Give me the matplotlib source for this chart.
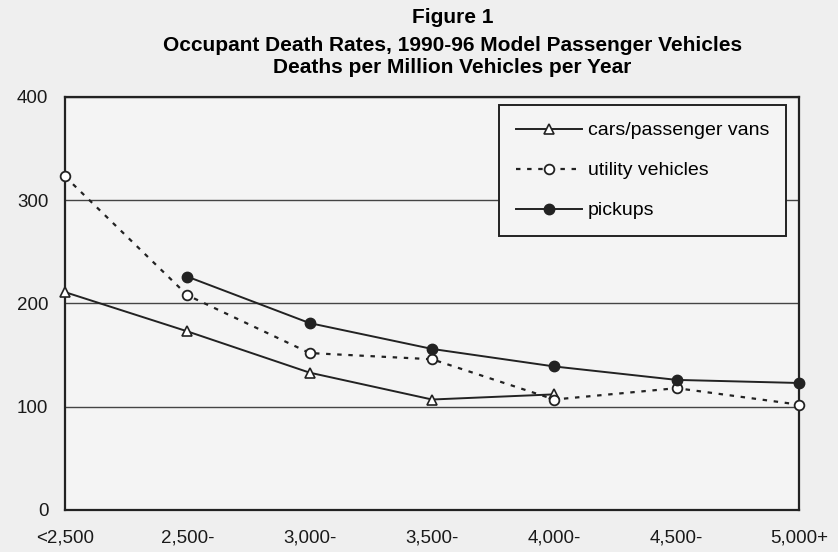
import matplotlib
matplotlib.use("Agg")
import matplotlib.pyplot as plt
import numpy as np

plt.rcParams['font.family'] = ['Liberation Sans', 'DejaVu Sans']

weights = ["<2,500", "2,500-", "3,000-", "3,500-", "4,000-", "4,500-", "5,000+"]
cars = [211, 173, 133, 107, 112, None, None]
utility = [323, 208, 152, 146, 107, 118, 102]
pickups = [None, 226, 181, 156, 139, 126, 123]

def arr(v):
    return np.array([np.nan if a is None else a for a in v], dtype=float)

bg = '#efefef'
fig = plt.figure(figsize=(8.38, 5.52), dpi=100, facecolor=bg)
ax = fig.add_axes([0.0776, 0.0761, 0.8759, 0.7482], facecolor='#f4f4f4')

x = np.arange(len(weights))
ax.plot(x, arr(cars), color='#222222', lw=1.4, marker='^', ms=6.5,
        mfc='white', mec='#222222', mew=1.2, label='cars/passenger vans',
        zorder=3, clip_on=False)
ax.plot(x, arr(utility), color='#222222', lw=1.6, ls=(0, (2, 3)), marker='o', ms=7,
        mfc='white', mec='#222222', mew=1.3, label='utility vehicles',
        zorder=3, clip_on=False)
ax.plot(x, arr(pickups), color='#222222', lw=1.4, marker='o', ms=7.5,
        mfc='#222222', mec='#222222', label='pickups', zorder=3, clip_on=False)

ax.set_xlim(0, 6)
ax.set_ylim(0, 400)
ax.set_yticks([0, 100, 200, 300, 400])
ax.set_xticks(x)
ax.set_xticklabels(weights)
ax.tick_params(length=0, labelsize=13.5, colors='#1a1a1a')
ax.tick_params(axis='x', pad=14)
ax.tick_params(axis='y', pad=12)
ax.yaxis.grid(True, color='#444444', lw=1.0)
ax.set_axisbelow(True)
for s in ax.spines.values():
    s.set_color('#222222')
    s.set_linewidth(1.6)

leg = ax.legend(loc='upper right', bbox_to_anchor=(0.982, 0.98), fontsize=14,
                handlelength=3.4, handletextpad=0.3, labelspacing=1.15,
                borderpad=0.85, borderaxespad=0, fancybox=False, framealpha=1,
                facecolor='#f4f4f4', edgecolor='#222222')
leg.get_frame().set_linewidth(1.4)

fig.text(0.54, 0.968, "Figure 1", ha='center', va='center', fontsize=15, fontweight='bold')
fig.text(0.54, 0.918, "Occupant Death Rates, 1990-96 Model Passenger Vehicles",
         ha='center', va='center', fontsize=15, fontweight='bold')
fig.text(0.54, 0.878, "Deaths per Million Vehicles per Year",
         ha='center', va='center', fontsize=15, fontweight='bold')

fig.savefig("out.png", dpi=100, facecolor=bg)
